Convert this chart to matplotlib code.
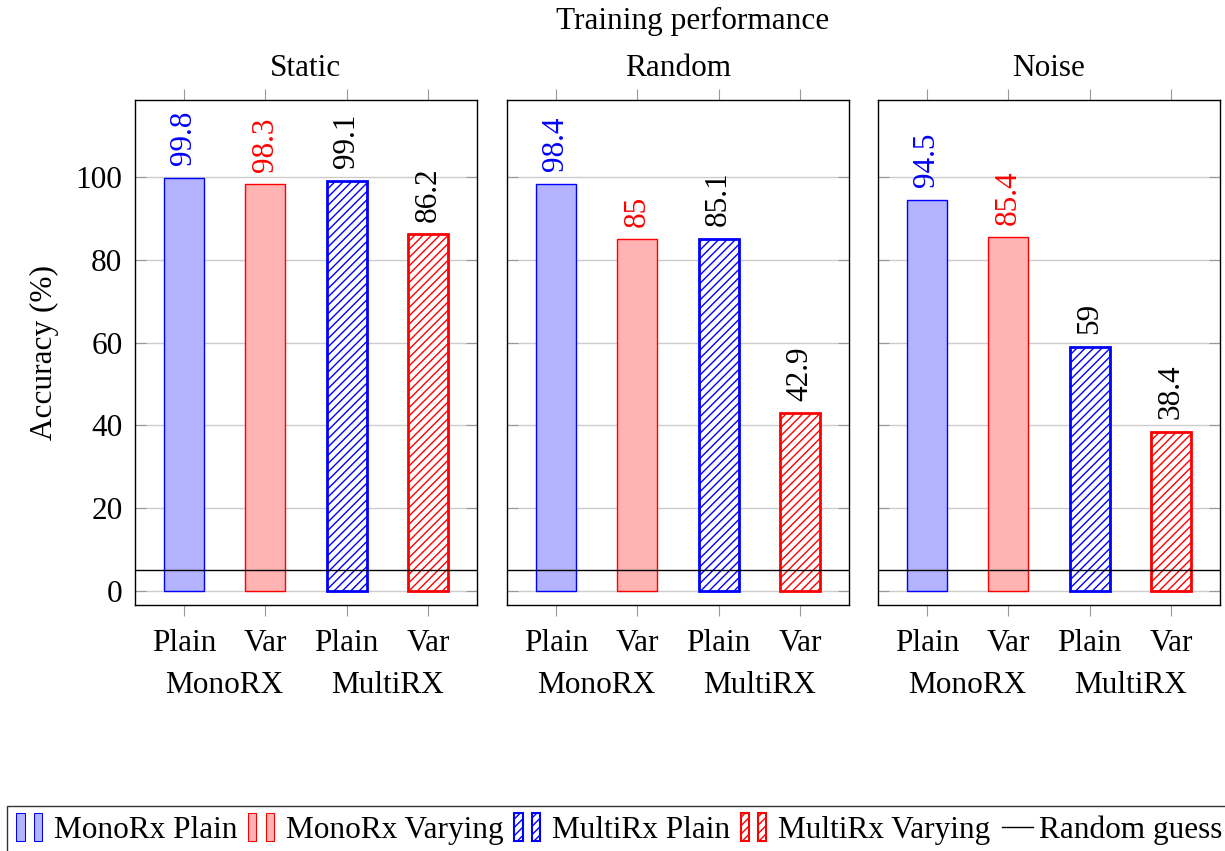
import numpy as np
import matplotlib.pyplot as plt
from matplotlib.patches import Rectangle
from matplotlib.lines import Line2D
from matplotlib.legend_handler import HandlerBase
import matplotlib.transforms as mtransforms

plt.rcParams['font.family'] = ['Liberation Serif', 'DejaVu Serif']
plt.rcParams['font.size'] = 22.5
plt.rcParams['hatch.linewidth'] = 1.0

# ---- data ----
panels = ['Static', 'Random', 'Noise']
tick_labels = ['Plain', 'Var', 'Plain', 'Var']
group_labels = ['MonoRX', 'MultiRX']
series = ['MonoRx Plain', 'MonoRx Varying', 'MultiRx Plain', 'MultiRx Varying']
static_acc = [99.8, 98.3, 99.1, 86.2]
random_acc = [98.4, 85, 85.1, 42.9]
noise_acc = [94.5, 85.4, 59, 38.4]
random_guess = 5

all_acc = [static_acc, random_acc, noise_acc]

# style per series
face = ['#b3b3ff', '#ffb3b3', 'white', 'white']
edge = ['blue', 'red', 'blue', 'red']
hatch = [None, None, '////', '////']
lw = [1.0, 1.0, 2.0, 2.0]
label_col = ['blue', 'red', 'black', 'black']


class TwoBars(HandlerBase):
    # pgfplots-like legend icon: two small bars
    def create_artists(self, legend, orig_handle, xdescent, ydescent,
                       width, height, fontsize, trans):
        arts = []
        w = width * 0.26
        for x0 in (0.0, width * 0.55):
            r = Rectangle((x0 - xdescent, -ydescent - height * 0.15), w, height * 1.3,
                          facecolor=orig_handle.get_facecolor(),
                          edgecolor=orig_handle.get_edgecolor(),
                          hatch=orig_handle.get_hatch(),
                          lw=orig_handle.get_linewidth(), transform=trans)
            arts.append(r)
        return arts


fig = plt.figure(figsize=(12.25, 8.51), dpi=100)
lefts = [135, 507, 878]
x = np.arange(len(tick_labels))

for k, (name, vals) in enumerate(zip(panels, all_acc)):
    ax = fig.add_axes([lefts[k] / 1225, 1 - 605 / 851, 342 / 1225, 505 / 851])
    for i in range(4):
        ax.bar(x[i], vals[i], width=0.49, facecolor=face[i], edgecolor=edge[i],
               hatch=hatch[i], linewidth=lw[i], zorder=3)
        ax.annotate('{:g}'.format(vals[i]), (x[i], vals[i]), xytext=(0, 9),
                    textcoords='offset points', rotation=90, ha='center', va='bottom',
                    color=label_col[i], zorder=4)
    ax.axhline(random_guess, color='black', lw=1.0, zorder=4)

    ax.set_xlim(-0.6, 3.6)
    ax.set_ylim(-3.4, 118.6)
    ax.set_yticks([0, 20, 40, 60, 80, 100])
    if k > 0:
        ax.set_yticklabels([])
    ax.set_xticks(x)
    ax.set_xticklabels(tick_labels)
    ax.grid(axis='y', color='#cccccc', lw=1.0, zorder=0)
    ax.tick_params(axis='y', direction='in', left=True, right=True, length=8,
                   color='#999999', pad=9)
    ax.tick_params(axis='x', direction='out', top=True, bottom=True, length=8,
                   color='#999999', pad=9)
    for s in ax.spines.values():
        s.set_linewidth(1.0)

    trans = mtransforms.blended_transform_factory(ax.transData, ax.transAxes)
    ax.text(np.mean(x[:2]), -0.16, group_labels[0], transform=trans, ha='center', va='center')
    ax.text(np.mean(x[2:]), -0.16, group_labels[1], transform=trans, ha='center', va='center')

    ax.set_title(name, pad=17, fontsize=22.5)
    if k == 0:
        ax.set_ylabel('Accuracy (%)', labelpad=12)

fig.text(693 / 1225, 1 - 21 / 851, 'Training performance', ha='center', va='center')

handles = [Rectangle((0, 0), 1, 1, facecolor=face[i], edgecolor=edge[i], hatch=hatch[i],
                     lw=lw[i] * 0.75) for i in range(4)]
handles.append(Line2D([], [], color='black', lw=1.0))
labels = series + ['Random guess']
leg = fig.legend(handles, labels, loc='upper left', bbox_to_anchor=(7 / 1225, 1 - 806 / 851),
                 ncol=5, frameon=True, fancybox=False, edgecolor='black',
                 handlelength=1.0, handletextpad=0.2, columnspacing=0.35,
                 borderpad=0.3, borderaxespad=0.0, handler_map={Rectangle: TwoBars()})
leg.get_frame().set_linewidth(1.0)

fig.savefig('out.png', dpi=100)
